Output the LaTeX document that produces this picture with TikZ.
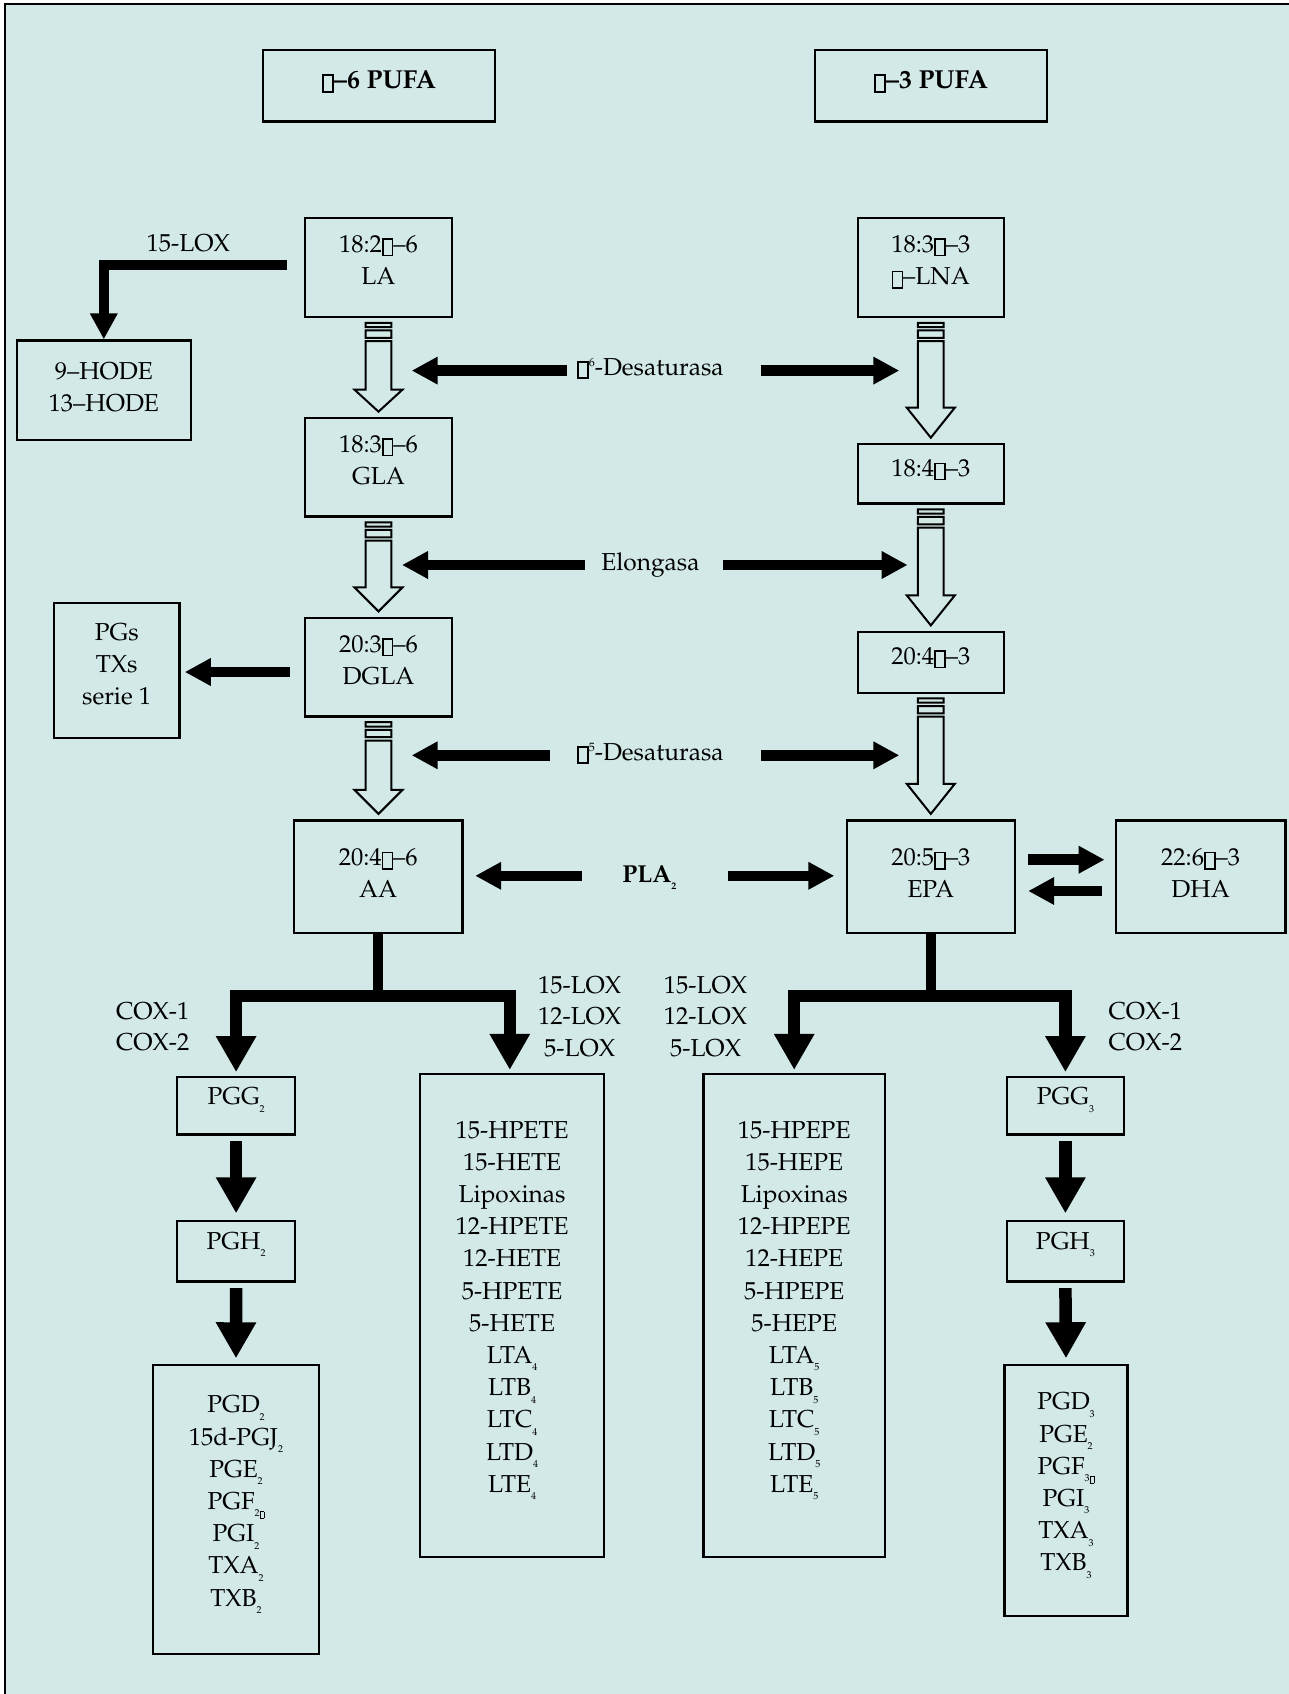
\documentclass[tikz,border=0pt]{standalone}
\usepackage[T1]{fontenc}
\renewcommand\rmdefault{ppl}
\usetikzlibrary{arrows.meta,calc}
\definecolor{bgc}{RGB}{210,233,232}
\newcommand\tofu{{\setlength\fboxsep{0pt}\setlength\fboxrule{0.065em}\raisebox{-0.1em}{\fbox{\hbox to 0.34em{\vrule width 0pt height 0.6em depth 0pt\hfil}}}}}
\newcommand\sbs[1]{\raisebox{-7.5pt}{\fontsize{10}{10}\selectfont #1}}
\newcommand\sps[1]{\raisebox{8.5pt}{\fontsize{12}{12}\selectfont #1}}
\tikzset{
  bx/.style={draw=black, line width=2.2pt, inner sep=0pt},
  txt/.style={inner sep=0pt, align=center, font=\fontsize{24.5}{32.2}\selectfont},
  lbl/.style={inner sep=0pt, align=center, font=\fontsize{24.5}{31.4}\selectfont},
  hol/.style={draw=black, fill=bgc, line width=2pt, line join=miter},
  blk/.style={line width=10.5pt, -{Triangle[width=26pt,length=26pt]}},
  bigblk/.style={line width=12.5pt, -{Triangle[width=38pt,length=36pt]}},
}
\newcommand\hollowarr[3]{%
  \draw[hol] let \p1=(#1.south), \p2=(#2.north) in
    (\x1-12.85pt,\y1-4.7pt) rectangle (\x1+12.85pt,\y1-9pt)
    (\x1-12.85pt,\y1-12.3pt) rectangle (\x1+12.85pt,\y1-19.7pt)
    (\x1-12.85pt,\y1-23pt) -- (\x1-12.85pt,\y2+5.5pt+#3) -- (\x1-24pt,\y2+5.5pt+#3)
    -- (\x1,\y2+5.5pt) -- (\x1+24pt,\y2+5.5pt+#3) -- (\x1+12.85pt,\y2+5.5pt+#3)
    -- (\x1+12.85pt,\y1-23pt) -- cycle;}
\begin{document}
\begin{tikzpicture}[x=1pt,y=-1pt]
\useasboundingbox (0,0) rectangle (1288,1694);
\fill[bgc] (5,4) rectangle (1290,1696);
\draw[line width=1.6pt] (5,1696) -- (5,4) -- (1290,4);

% ---- boxes ----
\node[bx, minimum width=232.7pt, minimum height=71pt] (p6) at (379,85.9) {};
\node[bx, minimum width=232.3pt, minimum height=71pt] (p3) at (930.9,85.9) {};
\node[bx, minimum width=147.6pt, minimum height=98.7pt] (la) at (378.5,267.6) {};
\node[bx, minimum width=147.6pt, minimum height=98.3pt] (gla) at (378.5,467.4) {};
\node[bx, minimum width=147.6pt, minimum height=98.4pt] (dgla) at (378.5,667.2) {};
\node[bx, minimum width=168.5pt, minimum height=112.5pt] (aa) at (378.2,876.7) {};
\node[bx, minimum width=174.3pt, minimum height=99.5pt] (hode) at (103.8,390.2) {};
\node[bx, minimum width=125.4pt, minimum height=135pt] (pgs) at (116.7,670.5) {};
\node[bx, minimum width=117.8pt, minimum height=57.8pt] (pgg2) at (236.1,1105.6) {};
\node[bx, minimum width=117.8pt, minimum height=60.5pt] (pgh2) at (236.1,1251.2) {};
\node[bx, minimum width=165.3pt, minimum height=289.5pt] (lst2) at (236,1509.5) {};
\node[bx, minimum width=183.7pt, minimum height=483pt] (lox2) at (512.1,1315.5) {};
\node[bx, minimum width=145.9pt, minimum height=98.7pt] (lna) at (930.8,267.6) {};
\node[bx, minimum width=145.9pt, minimum height=59.2pt] (sda) at (930.8,473.9) {};
\node[bx, minimum width=145.9pt, minimum height=60.6pt] (eta) at (930.8,662.3) {};
\node[bx, minimum width=167.6pt, minimum height=112.5pt] (epa) at (930.8,876.7) {};
\node[bx, minimum width=169.8pt, minimum height=112.5pt] (dha) at (1200.6,876.7) {};
\node[bx, minimum width=116.7pt, minimum height=57.8pt] (pgg3) at (1065.4,1105.6) {};
\node[bx, minimum width=116.7pt, minimum height=60.5pt] (pgh3) at (1065.4,1251.2) {};
\node[bx, minimum width=123pt, minimum height=251.3pt] (lst3) at (1066,1490.4) {};
\node[bx, minimum width=181.6pt, minimum height=483pt] (lox3) at (794.2,1315.5) {};

% ---- box texts ----
\node[txt, anchor=north, font=\fontsize{26}{30}\selectfont] (p6t) at ([yshift=-21pt]p6.north) {\textbf{\tofu--6 PUFA}};
\node[txt, anchor=north, font=\fontsize{26}{30}\selectfont] (p3t) at ([yshift=-21pt]p3.north) {\textbf{\tofu--3 PUFA}};
\node[txt, anchor=north] (lat) at ([yshift=-18pt]la.north) {18:2\tofu--6\\LA};
\node[txt, anchor=north] (glat) at ([yshift=-18pt]gla.north) {18:3\tofu--6\\GLA};
\node[txt, anchor=north] (dglat) at ([yshift=-18pt]dgla.north) {20:3\tofu--6\\DGLA};
\node[txt, anchor=north] (aat) at ([yshift=-29pt]aa.north) {20:4\tofu--6\\AA};
\node[txt, anchor=north] (hodet) at ([yshift=-23pt]hode.north) {9--HODE\\13--HODE};
\node[txt, anchor=north] (pgst) at ([yshift=-21pt]pgs.north) {PGs\\TXs\\serie 1};
\node[txt, anchor=north] (pgg2t) at ([yshift=-12pt]pgg2.north) {PGG\sbs{2}};
\node[txt, anchor=north] (pgh2t) at ([yshift=-12pt]pgh2.north) {PGH\sbs{2}};
\node[txt, anchor=north] (lst2t) at ([yshift=-32pt]lst2.north) {PGD\sbs{2}\\15d-PGJ\sbs{2}\\PGE\sbs{2}\\PGF\sbs{2\tofu}\\PGI\sbs{2}\\TXA\sbs{2}\\TXB\sbs{2}};
\node[txt, anchor=north] (lox2t) at ([yshift=-48pt]lox2.north) {15-HPETE\\15-HETE\\Lipoxinas\\12-HPETE\\12-HETE\\5-HPETE\\5-HETE\\LTA\sbs{4}\\LTB\sbs{4}\\LTC\sbs{4}\\LTD\sbs{4}\\LTE\sbs{4}};
\node[txt, anchor=north] (lnat) at ([yshift=-18pt]lna.north) {18:3\tofu--3\\\tofu--LNA};
\node[txt, anchor=north] (sdat) at ([yshift=-16pt]sda.north) {18:4\tofu--3};
\node[txt, anchor=north] (etat) at ([yshift=-16pt]eta.north) {20:4\tofu--3};
\node[txt, anchor=north] (epat) at ([yshift=-29pt]epa.north) {20:5\tofu--3\\EPA};
\node[txt, anchor=north] (dhat) at ([yshift=-29pt]dha.north) {22:6\tofu--3\\DHA};
\node[txt, anchor=north] (pgg3t) at ([yshift=-12pt]pgg3.north) {PGG\sbs{3}};
\node[txt, anchor=north] (pgh3t) at ([yshift=-12pt]pgh3.north) {PGH\sbs{3}};
\node[txt, anchor=north] (lst3t) at ([yshift=-29pt]lst3.north) {PGD\sbs{3}\\PGE\sbs{2}\\PGF\sbs{3\tofu}\\PGI\sbs{3}\\TXA\sbs{3}\\TXB\sbs{3}};
\node[txt, anchor=north] (lox3t) at ([yshift=-48pt]lox3.north) {15-HPEPE\\15-HEPE\\Lipoxinas\\12-HPEPE\\12-HEPE\\5-HPEPE\\5-HEPE\\LTA\sbs{5}\\LTB\sbs{5}\\LTC\sbs{5}\\LTD\sbs{5}\\LTE\sbs{5}};

% ---- hollow arrows ----
\hollowarr{la}{gla}{22pt}
\hollowarr{gla}{dgla}{24pt}
\hollowarr{dgla}{aa}{24pt}
\hollowarr{lna}{sda}{30pt}
\hollowarr{sda}{eta}{30pt}
\hollowarr{eta}{epa}{30pt}

% ---- enzyme labels and their arrows ----
\node[lbl, anchor=base] (d6) at (650.5,375) {\tofu\sps{6}-Desaturasa};
\node[lbl, anchor=base] (elo) at (650.5,570) {Elongasa};
\node[lbl, anchor=base] (d5) at (650.5,760) {\tofu\sps{5}-Desaturasa};
\node[lbl, anchor=base] (pla) at (649.4,882.3) {\textbf{PLA\sbs{2}}};
\coordinate (d6a) at (567.3,370.6);  \coordinate (d6b) at (411.7,370.6);
\coordinate (d6c) at (760.7,370.6);  \coordinate (d6d) at (899.3,370.6);
\coordinate (eloa) at (584.6,565);   \coordinate (elob) at (402,565);
\coordinate (eloc) at (722.9,565);   \coordinate (elod) at (907.6,565);
\coordinate (d5a) at (550,755.3);    \coordinate (d5b) at (411.7,755.3);
\coordinate (d5c) at (760.7,755.3);  \coordinate (d5d) at (899.3,755.3);
\coordinate (plaa) at (581.5,875.8); \coordinate (plab) at (475.2,875.8);
\coordinate (plac) at (728.3,875.8); \coordinate (plad) at (834.3,875.8);
\draw[blk] (d6a) -- (d6b);
\draw[blk] (d6c) -- (d6d);
\draw[blk] (eloa) -- (elob);
\draw[blk] (eloc) -- (elod);
\draw[blk] (d5a) -- (d5b);
\draw[blk] (d5c) -- (d5d);
\draw[blk] (plaa) -- (plab);
\draw[blk] (plac) -- (plad);

% EPA <-> DHA
\draw[blk] ([xshift=12pt,yshift=17pt]epa.east) -- ([xshift=-10pt,yshift=17pt]dha.west);
\draw[blk] ([xshift=-13pt,yshift=-14.3pt]dha.west) -- ([xshift=12.5pt,yshift=-14.3pt]epa.east);

% 15-LOX bent arrow
\node[lbl, anchor=base] (lox15) at (188.3,251.7) {15-LOX};
\draw[blk, line join=miter] ([xshift=-17pt]la.west |- 0,265) -| (hode.north);
% PGs arrow
\draw[blk] ([xshift=-14pt]dgla.west |- 0,672) -- ([xshift=4.3pt]pgs.east |- 0,672);

% COX / LOX trees
\node[lbl, anchor=base] (cox2) at (152.7,1050.7) {COX-1\\COX-2};
\node[lbl, anchor=base] (loxl) at (579.7,1056) {15-LOX\\12-LOX\\5-LOX};
\node[lbl, anchor=base] (loxr) at (705.6,1056) {15-LOX\\12-LOX\\5-LOX};
\node[lbl, anchor=base] (cox3) at (1145.3,1050.7) {COX-1\\COX-2};

\draw[line width=10pt] (aa.south) -- (aa.south |- 0,991);
\draw[line width=11.7pt] ([xshift=-6.35pt]pgg2.north |- 0,995.8) -- ([xshift=4pt]lox2.north |- 0,995.8);
\draw[bigblk] ([xshift=0pt]pgg2.north |- 0,990) -- ([yshift=3.5pt]pgg2.north);
\draw[bigblk] ([xshift=-2.3pt]lox2.north |- 0,990) -- ([xshift=-2.3pt,yshift=3pt]lox2.north);

\draw[line width=10pt] (epa.south) -- (epa.south |- 0,991);
\draw[line width=11.7pt] ([xshift=-6.35pt]lox3.north |- 0,995.8) -- ([xshift=6.35pt]pgg3.north |- 0,995.8);
\draw[bigblk] (lox3.north |- 0,990) -- ([yshift=3pt]lox3.north);
\draw[bigblk] (pgg3.north |- 0,990) -- ([yshift=3.5pt]pgg3.north);

% PGG -> PGH -> lists
\draw[bigblk] ([yshift=-5.5pt]pgg2.south) -- ([yshift=6.5pt]pgh2.north);
\draw[bigblk] ([yshift=-5.5pt]pgh2.south) -- ([yshift=5.4pt]lst2.north);
\draw[bigblk] ([yshift=-5.5pt]pgg3.south) -- ([yshift=6.5pt]pgh3.north);
\draw[bigblk] ([yshift=-5.5pt]pgh3.south) -- ([yshift=5.4pt]lst3.north);
\end{tikzpicture}
\end{document}
